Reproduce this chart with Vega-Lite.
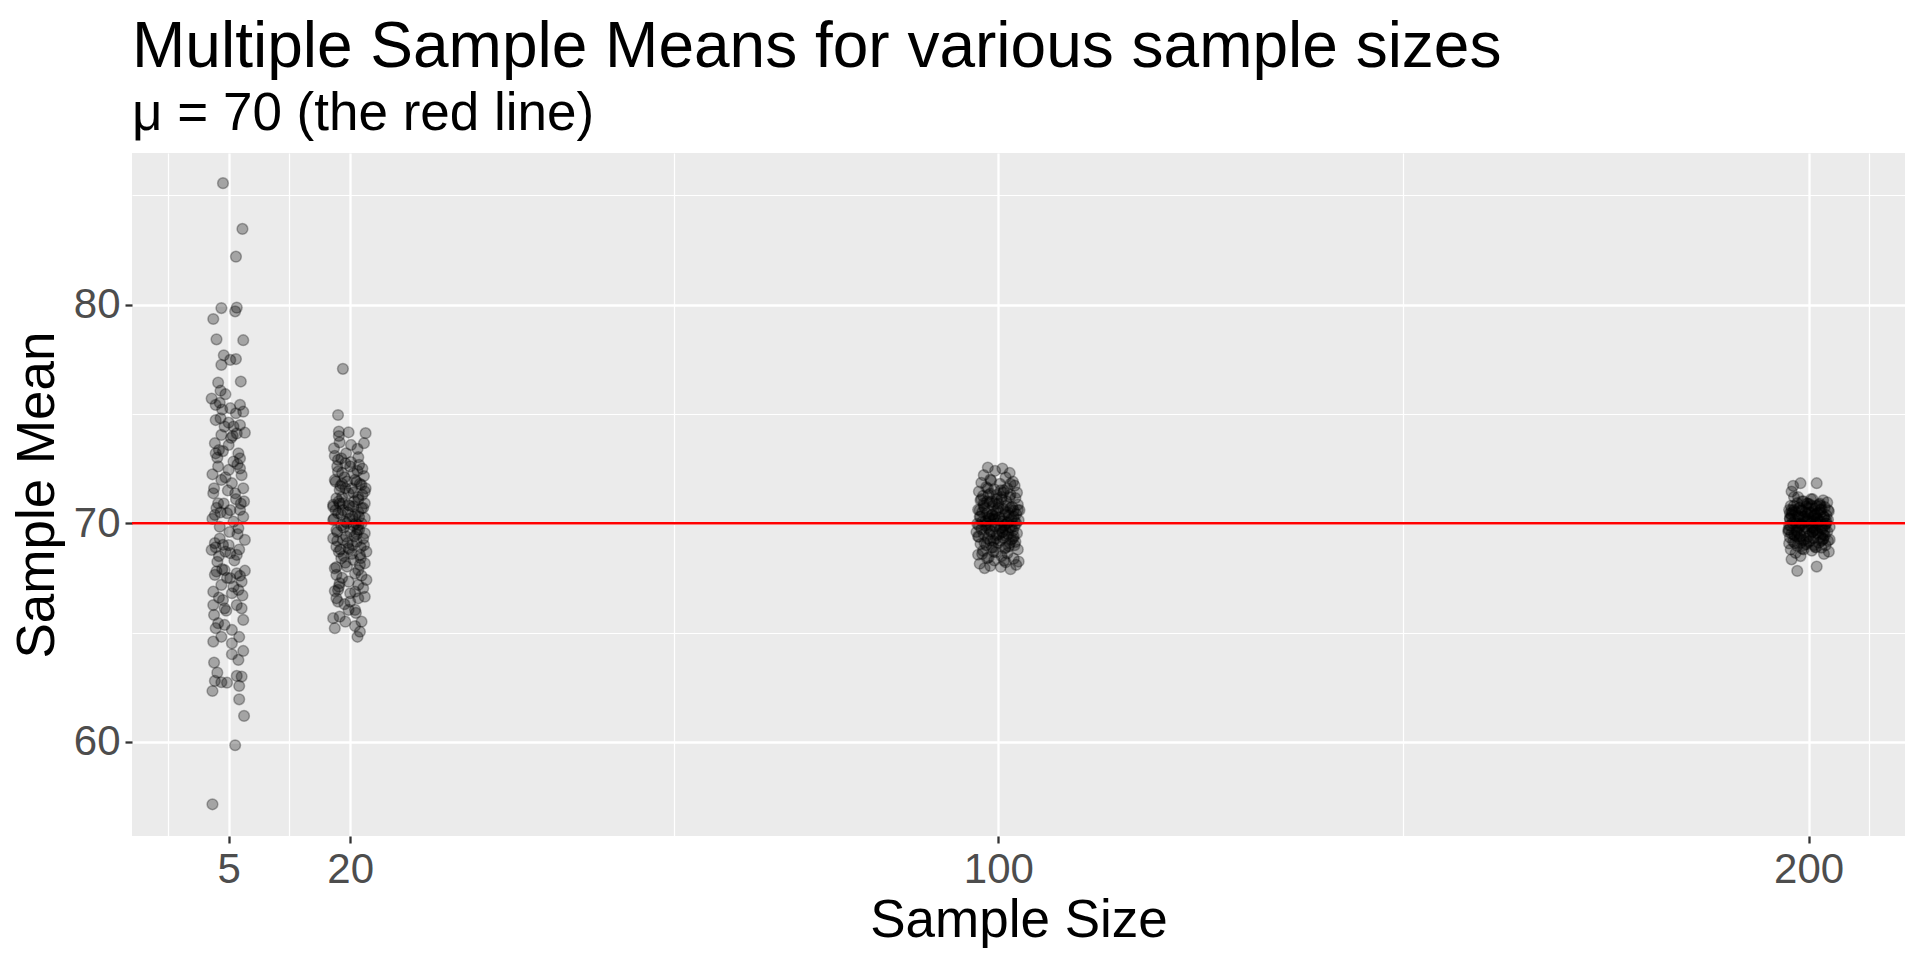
{
  "$schema": "https://vega.github.io/schema/vega-lite/v6.json",
  "width": 1773,
  "height": 683,
  "autosize": {"type": "none"},
  "padding": {"left": 132, "top": 153, "right": 15, "bottom": 124},
  "background": "white",
  "config": {
    "view": {"fill": "#EBEBEB", "stroke": null},
    "font": "Liberation Sans",
    "axis": {
      "labelFont": "Liberation Sans",
      "titleFont": "Liberation Sans",
      "labelFontSize": 42,
      "titleFontSize": 53,
      "titleFontWeight": "normal",
      "labelColor": "#4D4D4D",
      "titleColor": "black",
      "tickColor": "#333333",
      "tickWidth": 2.3,
      "tickSize": 7,
      "domain": false,
      "gridColor": "white",
      "gridOpacity": 1
    }
  },
  "title": {
    "text": "Multiple Sample Means for various sample sizes",
    "subtitle": "μ = 70 (the red line)",
    "anchor": "start",
    "frame": "group",
    "font": "Liberation Sans",
    "subtitleFont": "Liberation Sans",
    "fontSize": 64,
    "subtitleFontSize": 53,
    "fontWeight": "normal",
    "color": "black",
    "subtitleColor": "black",
    "offset": 12,
    "subtitlePadding": 8
  },
  "resolve": {"axis": {"x": "independent", "y": "independent"}},
  "layer": [
    {
      "data": {"values": [{"mu": 70}]},
      "mark": {"type": "point", "opacity": 0},
      "encoding": {
        "x": {
          "datum": 100,
          "type": "quantitative",
          "scale": {"domain": [-6.93, 211.9], "nice": false, "zero": false},
          "axis": {"orient": "top", "values": [-2.5, 12.5, 60, 150, 207.5], "grid": true, "gridWidth": 1.2, "labels": false, "ticks": false, "domain": false, "title": null}
        },
        "y": {
          "field": "mu",
          "type": "quantitative",
          "scale": {"domain": [55.70, 86.93], "nice": false, "zero": false},
          "axis": {"orient": "right", "values": [65, 75, 85], "grid": true, "gridWidth": 1.2, "labels": false, "ticks": false, "domain": false, "title": null}
        }
      }
    },
    {
      "data": {"values": [
        {"size":4.3,"mean":85.55},{"size":6.7,"mean":83.46},{"size":5.9,"mean":82.19},{"size":4.1,"mean":79.84},{"size":6.0,"mean":79.86},{"size":5.8,"mean":79.69},{"size":3.1,"mean":79.34},{"size":3.5,"mean":78.41},{"size":6.8,"mean":78.37},{"size":4.4,"mean":77.68},
        {"size":5.2,"mean":77.47},{"size":5.9,"mean":77.51},{"size":4.1,"mean":77.24},{"size":3.7,"mean":76.43},{"size":6.5,"mean":76.48},{"size":4.0,"mean":76.06},{"size":4.6,"mean":75.90},{"size":2.9,"mean":75.70},{"size":3.4,"mean":75.41},{"size":3.9,"mean":75.51},
        {"size":5.2,"mean":75.26},{"size":6.4,"mean":75.41},{"size":6.8,"mean":75.10},{"size":5.9,"mean":75.03},{"size":3.4,"mean":74.72},{"size":4.5,"mean":74.42},{"size":5.6,"mean":74.42},{"size":6.4,"mean":74.49},{"size":7.0,"mean":74.14},{"size":4.1,"mean":74.04},
        {"size":6.0,"mean":74.11},{"size":3.3,"mean":73.66},{"size":5.0,"mean":73.58},{"size":3.8,"mean":73.35},{"size":6.2,"mean":73.20},{"size":6.4,"mean":72.97},{"size":3.4,"mean":73.20},{"size":5.6,"mean":72.82},{"size":5.0,"mean":72.44},{"size":6.4,"mean":72.51},
        {"size":3.0,"mean":72.24},{"size":4.1,"mean":71.98},{"size":5.4,"mean":71.83},{"size":6.8,"mean":71.60},{"size":3.1,"mean":71.37},{"size":5.8,"mean":71.37},
        {"size":3.7,"mean":70.91},{"size":6.4,"mean":70.61},{"size":3.3,"mean":70.38},{"size":4.8,"mean":70.46},{"size":6.8,"mean":70.30},{"size":5.6,"mean":70.07},{"size":3.9,"mean":69.84},{"size":6.2,"mean":69.77},{"size":7.0,"mean":69.24},{"size":3.3,"mean":69.09},
        {"size":4.3,"mean":69.01},{"size":2.9,"mean":68.78},{"size":5.2,"mean":68.63},{"size":6.0,"mean":68.55},{"size":3.6,"mean":68.24},{"size":7.0,"mean":67.83},{"size":3.3,"mean":67.64},{"size":4.5,"mean":67.86},{"size":6.0,"mean":67.71},{"size":5.2,"mean":67.49},
        {"size":6.6,"mean":67.33},{"size":4.1,"mean":67.18},{"size":5.6,"mean":67.10},{"size":3.1,"mean":66.87},{"size":6.2,"mean":66.95},{"size":4.3,"mean":66.49},{"size":3.1,"mean":66.26},{"size":6.0,"mean":66.26},{"size":6.6,"mean":66.11},{"size":4.5,"mean":66.11},
        {"size":3.2,"mean":65.81},{"size":6.8,"mean":65.58},{"size":3.7,"mean":65.43},{"size":4.5,"mean":65.35},{"size":5.4,"mean":65.12},{"size":4.1,"mean":64.81},{"size":3.1,"mean":64.59},{"size":5.4,"mean":64.51},{"size":6.8,"mean":64.16},{"size":5.4,"mean":64.01},
        {"size":6.2,"mean":63.75},{"size":3.2,"mean":63.63},{"size":3.6,"mean":63.17},{"size":6.0,"mean":63.02},{"size":6.6,"mean":62.99},{"size":3.3,"mean":62.79},{"size":4.1,"mean":62.73},{"size":4.8,"mean":62.71},{"size":6.3,"mean":62.56},{"size":3.0,"mean":62.33},
        {"size":6.3,"mean":61.95},{"size":6.9,"mean":61.19},{"size":5.8,"mean":59.85},{"size":3.0,"mean":57.15},
        {"size":4.0,"mean":74.8},{"size":5.5,"mean":74.0},{"size":3.6,"mean":73.0},{"size":6.1,"mean":72.7},{"size":4.6,"mean":72.1},{"size":3.2,"mean":71.6},{"size":5.9,"mean":71.1},{"size":4.4,"mean":70.9},{"size":3.5,"mean":70.7},{"size":5.2,"mean":70.6},
        {"size":6.5,"mean":70.9},{"size":4.0,"mean":70.5},{"size":3.9,"mean":69.3},{"size":5.0,"mean":69.0},{"size":3.4,"mean":68.9},{"size":4.6,"mean":68.7},{"size":6.3,"mean":68.8},{"size":3.8,"mean":68.5},{"size":5.7,"mean":68.3},{"size":4.2,"mean":67.9},
        {"size":3.5,"mean":67.8},{"size":6.4,"mean":67.6},{"size":4.8,"mean":67.5},{"size":5.4,"mean":66.8},{"size":3.8,"mean":66.6},{"size":6.7,"mean":66.7},{"size":4.9,"mean":71.5},{"size":6.6,"mean":72.2},{"size":3.7,"mean":72.6},{"size":5.3,"mean":73.9},
        {"size":4.3,"mean":73.3},{"size":6.9,"mean":71.0},{"size":3.0,"mean":70.2},{"size":5.1,"mean":69.6},{"size":6.1,"mean":69.5},{"size":4.7,"mean":66.0},{"size":3.4,"mean":65.2},{"size":6.3,"mean":64.8},{"size":5.0,"mean":74.6},{"size":4.2,"mean":75.2},

        {"size":19.1,"mean":77.06},{"size":18.5,"mean":74.95},{"size":18.6,"mean":74.19},{"size":19.8,"mean":74.16},{"size":21.9,"mean":74.12},{"size":18.6,"mean":73.99},{"size":21.7,"mean":73.66},{"size":20.1,"mean":73.58},{"size":18.0,"mean":73.43},{"size":18.1,"mean":73.08},
        {"size":18.9,"mean":72.97},{"size":21.0,"mean":73.02},{"size":21.1,"mean":72.67},{"size":19.4,"mean":72.74},{"size":18.5,"mean":72.36},{"size":20.4,"mean":72.29},{"size":21.7,"mean":72.16},{"size":18.1,"mean":71.98},{"size":19.6,"mean":71.90},{"size":21.4,"mean":71.75},
        {"size":20.6,"mean":71.98},{"size":18.7,"mean":71.52},{"size":21.8,"mean":71.45},{"size":19.8,"mean":71.37},{"size":18.3,"mean":71.14},{"size":21.0,"mean":71.07},{"size":17.9,"mean":70.84},{"size":19.1,"mean":70.91},{"size":21.8,"mean":70.91},{"size":20.4,"mean":70.76},
        {"size":17.9,"mean":70.76},{"size":19.8,"mean":70.84},{"size":21.4,"mean":70.69},{"size":18.5,"mean":70.46},{"size":20.6,"mean":70.38},{"size":17.9,"mean":70.15},{"size":21.8,"mean":70.23},{"size":19.4,"mean":70.07},{"size":21.0,"mean":69.92},{"size":18.3,"mean":69.69},
        {"size":20.0,"mean":69.62},{"size":21.8,"mean":69.54},{"size":17.9,"mean":69.31},{"size":19.1,"mean":69.24},{"size":20.8,"mean":69.16},{"size":18.3,"mean":68.93},{"size":19.8,"mean":68.86},{"size":22.0,"mean":68.70},{"size":21.2,"mean":68.55},{"size":18.9,"mean":68.40},
        {"size":20.4,"mean":68.32},{"size":21.8,"mean":68.17},{"size":18.1,"mean":67.94},{"size":19.6,"mean":68.02},{"size":21.0,"mean":67.86},{"size":18.3,"mean":67.64},{"size":22.0,"mean":67.41},{"size":19.8,"mean":67.33},{"size":18.7,"mean":67.26},{"size":21.0,"mean":67.18},
        {"size":21.6,"mean":67.03},{"size":20.6,"mean":66.87},{"size":18.5,"mean":66.95},{"size":21.8,"mean":66.64},{"size":18.3,"mean":66.57},{"size":21.0,"mean":66.57},{"size":18.5,"mean":66.42},{"size":20.0,"mean":66.42},{"size":19.8,"mean":66.04},{"size":20.6,"mean":66.04},
        {"size":17.9,"mean":65.66},{"size":18.7,"mean":65.73},{"size":19.4,"mean":65.50},{"size":18.1,"mean":65.20},{"size":21.4,"mean":65.50},{"size":20.6,"mean":65.30},{"size":21.2,"mean":65.04},{"size":20.9,"mean":64.81},
        {"size":18.4,"mean":72.6},{"size":20.9,"mean":72.4},{"size":19.3,"mean":72.1},{"size":21.2,"mean":71.8},{"size":18.8,"mean":71.7},{"size":20.2,"mean":71.6},{"size":19.0,"mean":71.2},{"size":21.5,"mean":71.3},{"size":20.5,"mean":71.0},{"size":18.2,"mean":70.6},
        {"size":19.7,"mean":70.5},{"size":21.1,"mean":70.3},{"size":20.7,"mean":70.0},{"size":18.9,"mean":69.9},{"size":19.5,"mean":69.4},{"size":21.6,"mean":69.3},{"size":20.3,"mean":69.0},{"size":18.6,"mean":68.7},{"size":21.3,"mean":68.9},{"size":19.2,"mean":68.5},
        {"size":20.9,"mean":69.7},{"size":19.9,"mean":70.2},
        {"size":19.0,"mean":71.8},{"size":20.4,"mean":71.4},{"size":18.7,"mean":70.9},{"size":21.0,"mean":70.5},{"size":19.6,"mean":70.0},{"size":20.8,"mean":69.5},{"size":18.4,"mean":69.2},{"size":19.9,"mean":68.8},{"size":21.4,"mean":70.0},{"size":20.1,"mean":72.8},
        {"size":18.5,"mean":72.9},{"size":20.0,"mean":72.6},{"size":21.5,"mean":72.5},{"size":19.0,"mean":72.3},{"size":18.2,"mean":71.9},{"size":20.8,"mean":71.9},{"size":19.4,"mean":71.6},{"size":21.0,"mean":71.2},{"size":18.6,"mean":71.0},{"size":19.9,"mean":70.8},
        {"size":21.6,"mean":70.7},{"size":18.9,"mean":70.4},{"size":20.3,"mean":70.3},{"size":19.2,"mean":69.8},{"size":21.1,"mean":69.7},{"size":18.4,"mean":69.6},{"size":20.5,"mean":69.4},{"size":19.7,"mean":69.1},{"size":21.7,"mean":69.0},{"size":18.8,"mean":68.8},
        {"size":20.2,"mean":68.6},{"size":19.4,"mean":68.2},{"size":21.2,"mean":68.1},{"size":18.3,"mean":68.0},{"size":20.6,"mean":67.7},{"size":19.0,"mean":67.5},{"size":21.4,"mean":67.6},{"size":18.6,"mean":67.1},{"size":20.0,"mean":66.8},{"size":19.3,"mean":66.3},
        {"size":21.9,"mean":71.6},{"size":18.0,"mean":70.2},{"size":19.5,"mean":73.2},{"size":20.9,"mean":73.4},{"size":18.7,"mean":73.7},{"size":20.4,"mean":69.9},{"size":19.1,"mean":70.6},{"size":21.3,"mean":68.4},{"size":18.1,"mean":66.9},{"size":20.7,"mean":65.9},

        {"size":98.7,"mean":72.55},{"size":100.5,"mean":72.50},{"size":99.6,"mean":72.40},{"size":101.4,"mean":72.30},{"size":98.2,"mean":72.20},{"size":100.9,"mean":72.10},{"size":99.1,"mean":71.95},{"size":101.8,"mean":71.90},{"size":97.9,"mean":71.85},{"size":100.2,"mean":71.80},
        {"size":102.0,"mean":71.72},{"size":98.5,"mean":71.65},{"size":101.1,"mean":71.60},{"size":99.5,"mean":71.55},{"size":100.7,"mean":71.50},{"size":97.6,"mean":71.45},{"size":102.3,"mean":71.40},{"size":99.0,"mean":71.35},{"size":101.5,"mean":71.30},{"size":98.1,"mean":71.25},
        {"size":100.4,"mean":71.20},{"size":102.1,"mean":71.15},{"size":99.8,"mean":71.10},{"size":97.8,"mean":71.05},{"size":101.0,"mean":71.00},{"size":98.9,"mean":70.95},{"size":100.0,"mean":70.90},{"size":102.4,"mean":70.85},{"size":99.3,"mean":70.80},{"size":101.7,"mean":70.75},
        {"size":98.3,"mean":70.70},{"size":100.6,"mean":70.65},{"size":97.5,"mean":70.62},{"size":101.9,"mean":70.58},{"size":99.7,"mean":70.55},{"size":100.9,"mean":70.50},{"size":98.6,"mean":70.46},{"size":102.2,"mean":70.42},{"size":99.2,"mean":70.38},{"size":101.3,"mean":70.35},
        {"size":97.7,"mean":70.30},{"size":100.1,"mean":70.27},{"size":98.8,"mean":70.24},{"size":101.6,"mean":70.20},{"size":99.4,"mean":70.17},{"size":102.5,"mean":70.14},{"size":100.3,"mean":70.10},{"size":98.0,"mean":70.07},{"size":101.2,"mean":70.04},{"size":99.9,"mean":70.00},
        {"size":97.4,"mean":69.97},{"size":100.8,"mean":69.94},{"size":98.4,"mean":69.90},{"size":102.0,"mean":69.87},{"size":99.6,"mean":69.84},{"size":101.4,"mean":69.80},{"size":100.2,"mean":69.77},{"size":97.9,"mean":69.73},{"size":98.9,"mean":69.70},{"size":101.8,"mean":69.66},
        {"size":99.1,"mean":69.62},{"size":100.5,"mean":69.58},{"size":102.3,"mean":69.54},{"size":98.2,"mean":69.50},{"size":99.8,"mean":69.46},{"size":101.0,"mean":69.42},{"size":97.6,"mean":69.38},{"size":100.6,"mean":69.34},{"size":98.7,"mean":69.30},{"size":101.6,"mean":69.25},
        {"size":99.4,"mean":69.20},{"size":102.1,"mean":69.15},{"size":100.0,"mean":69.10},{"size":97.8,"mean":69.05},{"size":98.5,"mean":69.00},{"size":101.3,"mean":68.95},{"size":99.2,"mean":68.90},{"size":100.8,"mean":68.85},{"size":102.4,"mean":68.80},{"size":98.1,"mean":68.74},
        {"size":99.7,"mean":68.68},{"size":101.1,"mean":68.62},{"size":97.5,"mean":68.56},{"size":100.4,"mean":68.50},{"size":98.8,"mean":68.44},{"size":101.9,"mean":68.38},{"size":99.5,"mean":68.30},{"size":100.9,"mean":68.22},{"size":97.7,"mean":68.15},{"size":102.2,"mean":68.10},
        {"size":99.0,"mean":68.05},{"size":100.3,"mean":68.00},{"size":98.3,"mean":67.95},{"size":101.5,"mean":67.90},{"size":102.5,"mean":68.25},{"size":98.0,"mean":68.60},{"size":97.3,"mean":69.60},{"size":102.6,"mean":70.60},{"size":98.6,"mean":71.00},{"size":99.0,"mean":70.20},
        {"size":99.3,"mean":70.4},{"size":100.7,"mean":69.9},{"size":101.5,"mean":70.7},{"size":98.4,"mean":70.1},{"size":100.1,"mean":69.5},{"size":99.0,"mean":69.2},{"size":101.9,"mean":69.4},{"size":98.8,"mean":71.3},{"size":100.4,"mean":71.1},{"size":99.6,"mean":70.9},
        {"size":101.2,"mean":70.5},{"size":97.8,"mean":70.3},{"size":100.9,"mean":69.7},{"size":99.9,"mean":70.6},{"size":98.6,"mean":69.8},{"size":102.0,"mean":70.1},{"size":99.4,"mean":68.9},{"size":100.6,"mean":71.4},{"size":101.4,"mean":69.1},{"size":98.2,"mean":70.9},
        {"size":98.0,"mean":70.5},{"size":99.5,"mean":70.3},{"size":101.0,"mean":70.8},{"size":102.2,"mean":70.0},{"size":97.6,"mean":69.9},{"size":100.5,"mean":69.6},{"size":101.8,"mean":69.3},{"size":98.9,"mean":69.5},{"size":100.0,"mean":70.7},{"size":99.2,"mean":71.0},
        {"size":101.4,"mean":71.2},{"size":97.9,"mean":71.1},{"size":100.8,"mean":70.4},{"size":99.7,"mean":69.3},{"size":98.5,"mean":70.0},{"size":102.4,"mean":70.6},{"size":99.1,"mean":69.9},{"size":100.3,"mean":71.5},{"size":101.6,"mean":69.8},{"size":98.3,"mean":69.1},
        {"size":100.9,"mean":68.9},{"size":99.4,"mean":68.7},{"size":101.9,"mean":70.3},{"size":98.7,"mean":71.6},{"size":100.6,"mean":70.1},{"size":97.7,"mean":70.6},{"size":99.8,"mean":71.3},{"size":101.2,"mean":69.5},{"size":98.2,"mean":70.8},{"size":100.2,"mean":69.2},
        {"size":99.0,"mean":72.0},{"size":101.5,"mean":71.8},{"size":98.6,"mean":68.4},{"size":100.7,"mean":68.3},{"size":102.0,"mean":69.0},{"size":97.5,"mean":69.4},{"size":99.6,"mean":70.2},{"size":101.1,"mean":70.0},{"size":98.8,"mean":70.3},{"size":100.4,"mean":69.8},

        {"size":199.0,"mean":71.83},{"size":201.0,"mean":71.83},{"size":198.1,"mean":71.71},{"size":197.9,"mean":71.45},{"size":198.2,"mean":71.20},{"size":200.5,"mean":71.10},{"size":201.8,"mean":71.05},{"size":199.4,"mean":71.00},{"size":202.3,"mean":70.95},{"size":198.6,"mean":70.92},
        {"size":200.1,"mean":70.88},{"size":201.3,"mean":70.85},{"size":197.8,"mean":70.80},{"size":199.7,"mean":70.77},{"size":202.0,"mean":70.74},{"size":198.9,"mean":70.70},{"size":200.8,"mean":70.67},{"size":201.6,"mean":70.64},{"size":197.6,"mean":70.61},{"size":199.2,"mean":70.58},
        {"size":202.5,"mean":70.55},{"size":198.4,"mean":70.52},{"size":200.3,"mean":70.49},{"size":201.1,"mean":70.46},{"size":199.9,"mean":70.43},{"size":197.9,"mean":70.40},{"size":202.2,"mean":70.37},{"size":198.7,"mean":70.34},{"size":200.6,"mean":70.31},{"size":201.9,"mean":70.28},
        {"size":199.3,"mean":70.25},{"size":197.7,"mean":70.22},{"size":200.0,"mean":70.19},{"size":202.4,"mean":70.16},{"size":198.3,"mean":70.13},{"size":201.4,"mean":70.10},{"size":199.6,"mean":70.07},{"size":200.9,"mean":70.04},{"size":198.0,"mean":70.01},{"size":202.1,"mean":69.98},
        {"size":199.1,"mean":69.95},{"size":201.2,"mean":69.92},{"size":197.8,"mean":69.89},{"size":200.4,"mean":69.86},{"size":202.6,"mean":69.83},{"size":198.8,"mean":69.80},{"size":199.8,"mean":69.77},{"size":201.7,"mean":69.74},{"size":197.6,"mean":69.71},{"size":200.7,"mean":69.68},
        {"size":198.5,"mean":69.65},{"size":202.3,"mean":69.62},{"size":199.5,"mean":69.59},{"size":201.0,"mean":69.56},{"size":197.9,"mean":69.53},{"size":200.2,"mean":69.50},{"size":198.2,"mean":69.47},{"size":202.0,"mean":69.44},{"size":199.0,"mean":69.41},{"size":201.5,"mean":69.38},
        {"size":197.7,"mean":69.35},{"size":200.6,"mean":69.32},{"size":198.9,"mean":69.29},{"size":201.8,"mean":69.26},{"size":199.4,"mean":69.23},{"size":202.4,"mean":69.20},{"size":198.1,"mean":69.17},{"size":200.0,"mean":69.14},{"size":201.3,"mean":69.11},{"size":197.6,"mean":69.08},
        {"size":199.7,"mean":69.04},{"size":202.1,"mean":69.00},{"size":198.6,"mean":68.96},{"size":200.8,"mean":68.92},{"size":201.6,"mean":68.88},{"size":199.2,"mean":68.84},{"size":197.8,"mean":68.80},{"size":200.4,"mean":68.75},{"size":202.5,"mean":68.70},{"size":198.4,"mean":68.64},
        {"size":201.9,"mean":68.60},{"size":199.0,"mean":68.50},{"size":197.9,"mean":68.35},{"size":201.0,"mean":68.02},{"size":198.6,"mean":67.82},{"size":199.9,"mean":70.90},{"size":200.1,"mean":70.50},{"size":201.0,"mean":70.20},{"size":198.9,"mean":69.90},{"size":200.5,"mean":69.60},
        {"size":199.1,"mean":70.60},{"size":202.2,"mean":70.10},{"size":197.5,"mean":69.70},{"size":200.9,"mean":70.35},{"size":199.6,"mean":69.85},{"size":201.5,"mean":70.80},{"size":198.3,"mean":69.45},{"size":200.3,"mean":70.00},{"size":202.6,"mean":69.25},{"size":197.7,"mean":70.45},
        {"size":199.3,"mean":70.3},{"size":200.6,"mean":69.8},{"size":201.4,"mean":70.6},{"size":198.4,"mean":70.0},{"size":200.0,"mean":69.4},{"size":199.0,"mean":69.1},{"size":201.8,"mean":69.5},{"size":198.8,"mean":70.7},{"size":200.4,"mean":70.8},{"size":199.6,"mean":70.5},
        {"size":201.1,"mean":70.2},{"size":197.9,"mean":70.3},{"size":200.9,"mean":69.7},{"size":199.8,"mean":70.1},{"size":198.6,"mean":69.6},{"size":202.0,"mean":69.9},{"size":199.4,"mean":69.0},{"size":200.7,"mean":70.4},{"size":201.6,"mean":69.2},{"size":198.2,"mean":70.6},
        {"size":198.0,"mean":70.5},{"size":199.5,"mean":70.3},{"size":201.0,"mean":70.8},{"size":202.2,"mean":70.0},{"size":197.6,"mean":69.9},{"size":200.5,"mean":69.6},{"size":201.8,"mean":69.3},{"size":198.9,"mean":69.5},{"size":200.0,"mean":70.7},{"size":199.2,"mean":71.0},
        {"size":201.4,"mean":70.9},{"size":197.9,"mean":70.6},{"size":200.8,"mean":70.4},{"size":199.7,"mean":69.3},{"size":198.5,"mean":70.0},{"size":202.4,"mean":70.6},{"size":199.1,"mean":69.9},{"size":200.3,"mean":71.1},{"size":201.6,"mean":69.8},{"size":198.3,"mean":69.1},
        {"size":200.9,"mean":68.9},{"size":199.4,"mean":68.8},{"size":201.9,"mean":70.3},{"size":198.7,"mean":71.2},{"size":200.6,"mean":70.1},{"size":197.7,"mean":70.2},{"size":199.8,"mean":70.9},{"size":201.2,"mean":69.5},{"size":198.2,"mean":70.8},{"size":200.2,"mean":69.2},
        {"size":199.0,"mean":70.0},{"size":201.5,"mean":70.5},{"size":198.6,"mean":69.4},{"size":200.7,"mean":69.0},{"size":202.0,"mean":69.7},{"size":197.5,"mean":69.6},{"size":199.6,"mean":70.2},{"size":201.1,"mean":70.0},{"size":198.8,"mean":70.3},{"size":200.4,"mean":69.8}
      ]},
      "mark": {"type": "point", "shape": "circle", "filled": true, "size": 115, "fill": "black", "fillOpacity": 0.3, "stroke": "black", "strokeOpacity": 0.3, "strokeWidth": 1.5, "opacity": 1},
      "encoding": {
        "x": {
          "field": "size",
          "type": "quantitative",
          "scale": {"domain": [-6.93, 211.9], "nice": false, "zero": false},
          "axis": {"values": [5, 20, 100, 200], "grid": true, "gridWidth": 2.3, "title": "Sample Size", "labelPadding": 6, "titlePadding": 4, "labelFlush": false}
        },
        "y": {
          "field": "mean",
          "type": "quantitative",
          "scale": {"domain": [55.70, 86.93], "nice": false, "zero": false},
          "axis": {"values": [60, 70, 80], "grid": true, "gridWidth": 2.3, "title": "Sample Mean", "labelPadding": 5, "titlePadding": 9, "labelFlush": false}
        }
      }
    },
    {
      "data": {"values": [{"mu": 70}]},
      "mark": {"type": "rule", "color": "#FF0000", "strokeWidth": 2.4},
      "encoding": {
        "y": {"field": "mu", "type": "quantitative", "axis": null}
      }
    }
  ]
}
